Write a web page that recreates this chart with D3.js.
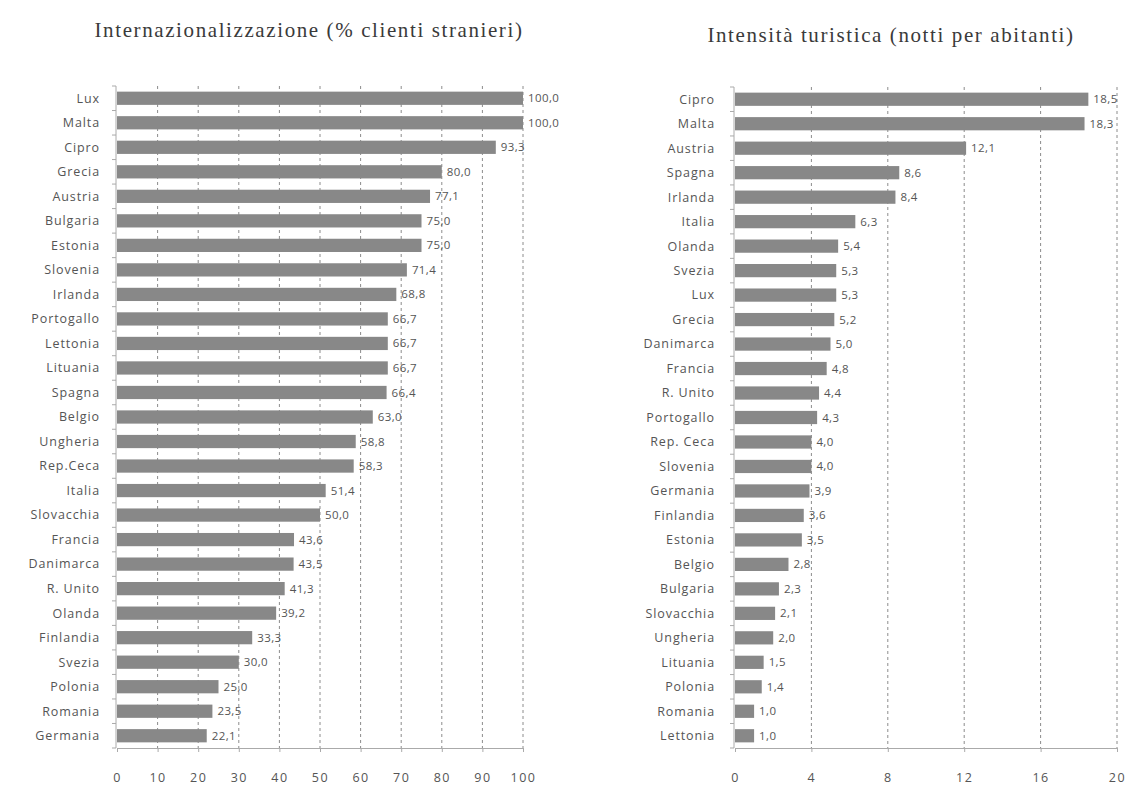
<!DOCTYPE html>
<html>
<head>
<meta charset="utf-8">
<script src="https://cdn.jsdelivr.net/npm/d3@7"></script>
<style>
  body { margin: 0; background: #fff; }
  svg text { font-family: "Open Sans", sans-serif; }
  .title { font-family: "Liberation Serif", serif; fill: #3a3a3a; }
</style>
</head>
<body>
<div id="chart"></div>
<script>
// left panel: internazionalizzazione
const leftCountries = ['Lux', 'Malta', 'Cipro', 'Grecia', 'Austria', 'Bulgaria', 'Estonia', 'Slovenia',
  'Irlanda', 'Portogallo', 'Lettonia', 'Lituania', 'Spagna', 'Belgio', 'Ungheria', 'Rep.Ceca',
  'Italia', 'Slovacchia', 'Francia', 'Danimarca', 'R. Unito', 'Olanda', 'Finlandia', 'Svezia',
  'Polonia', 'Romania', 'Germania'];
const leftValues = [100.0, 100.0, 93.3, 80.0, 77.1, 75.0, 75.0, 71.4, 68.8, 66.7, 66.7, 66.7, 66.4,
  63.0, 58.8, 58.3, 51.4, 50.0, 43.6, 43.5, 41.3, 39.2, 33.3, 30.0, 25.0, 23.5, 22.1];
const leftTicks = [0, 10, 20, 30, 40, 50, 60, 70, 80, 90, 100];

// right panel: intensita turistica
const rightCountries = ['Cipro', 'Malta', 'Austria', 'Spagna', 'Irlanda', 'Italia', 'Olanda', 'Svezia',
  'Lux', 'Grecia', 'Danimarca', 'Francia', 'R. Unito', 'Portogallo', 'Rep. Ceca', 'Slovenia',
  'Germania', 'Finlandia', 'Estonia', 'Belgio', 'Bulgaria', 'Slovacchia', 'Ungheria', 'Lituania',
  'Polonia', 'Romania', 'Lettonia'];
const rightValues = [18.5, 18.3, 12.1, 8.6, 8.4, 6.3, 5.4, 5.3, 5.3, 5.2, 5.0, 4.8, 4.4, 4.3, 4.0, 4.0,
  3.9, 3.6, 3.5, 2.8, 2.3, 2.1, 2.0, 1.5, 1.4, 1.0, 1.0];
const rightTicks = [0, 4, 8, 12, 16, 20];

const width = 1135, height = 787;
const svg = d3.select('#chart').append('svg')
  .attr('width', width)
  .attr('height', height);

const fmt = v => d3.format('.1f')(v).replace('.', ',');

function drawPanel(opts) {
  const { cats, vals, ticks, x0, x1, top, bottom, title, titleX, titleY, labelGap } = opts;
  const x = d3.scaleLinear().domain([ticks[0], ticks[ticks.length - 1]]).range([x0, x1]);
  const y = d3.scaleBand().domain(cats).range([top, bottom]).paddingInner(0.46).paddingOuter(0.23);
  const g = svg.append('g');

  svg.append('text')
    .attr('class', 'title')
    .attr('x', titleX)
    .attr('y', titleY)
    .attr('text-anchor', 'middle')
    .attr('font-size', 21)
    .attr('letter-spacing', 1.6)
    .text(title);

  // dashed gridlines
  g.selectAll('line.grid')
    .data(ticks.slice(1))
    .join('line')
    .attr('class', 'grid')
    .attr('x1', d => x(d)).attr('x2', d => x(d))
    .attr('y1', top).attr('y2', bottom)
    .attr('stroke', '#8c8c8c')
    .attr('stroke-width', 1)
    .attr('stroke-dasharray', '3,3');

  // bars
  g.selectAll('rect.bar')
    .data(cats)
    .join('rect')
    .attr('class', 'bar')
    .attr('x', x(0))
    .attr('y', d => y(d))
    .attr('height', y.bandwidth())
    .attr('width', (d, i) => x(vals[i]) - x(0))
    .attr('fill', '#888');

  // value labels
  g.selectAll('text.val')
    .data(cats)
    .join('text')
    .attr('class', 'val')
    .attr('x', (d, i) => x(vals[i]) + 5)
    .attr('y', d => y(d) + y.bandwidth() / 2)
    .attr('dy', '0.35em')
    .attr('font-size', 11.5)
    .attr('letter-spacing', 0.4)
    .attr('fill', '#555')
    .text((d, i) => fmt(vals[i]));

  // category labels
  g.selectAll('text.cat')
    .data(cats)
    .join('text')
    .attr('class', 'cat')
    .attr('x', x0 - labelGap)
    .attr('y', d => y(d) + y.bandwidth() / 2)
    .attr('dy', '0.35em')
    .attr('text-anchor', 'end')
    .attr('font-size', 12.5)
    .attr('letter-spacing', 0.9)
    .attr('fill', '#555')
    .text(d => d);

  // y axis line with ticks between categories
  const step = y.step();
  const bounds = d3.range(cats.length + 1).map(i => top + i * step);
  g.append('line')
    .attr('x1', x0 - 1).attr('x2', x0 - 1)
    .attr('y1', top).attr('y2', bottom)
    .attr('stroke', '#aaa');
  g.selectAll('line.ytick')
    .data(bounds)
    .join('line')
    .attr('class', 'ytick')
    .attr('x1', x0 - 5).attr('x2', x0 - 1)
    .attr('y1', d => d).attr('y2', d => d)
    .attr('stroke', '#aaa');

  // x axis
  const xAxis = d3.axisBottom(x).tickValues(ticks).tickSize(4).tickPadding(21)
    .tickFormat(d3.format('d'));
  const ax = g.append('g')
    .attr('transform', 'translate(0,' + bottom + ')')
    .call(xAxis);
  ax.select('.domain').attr('stroke', '#aaa');
  ax.selectAll('.tick line').attr('stroke', '#aaa');
  ax.selectAll('.tick text').attr('font-size', 12.5).attr('fill', '#555')
    .attr('letter-spacing', 1.5)
    .attr('font-family', '"Open Sans", sans-serif');
}

drawPanel({
  cats: leftCountries, vals: leftValues, ticks: leftTicks,
  x0: 117, x1: 523, top: 86, bottom: 748, labelGap: 17,
  title: 'Internazionalizzazione (% clienti stranieri)', titleX: 309, titleY: 37
});

drawPanel({
  cats: rightCountries, vals: rightValues, ticks: rightTicks,
  x0: 735, x1: 1117, top: 87, bottom: 748, labelGap: 20,
  title: 'Intensità turistica (notti per abitanti)', titleX: 891, titleY: 42
});
</script>
</body>
</html>
